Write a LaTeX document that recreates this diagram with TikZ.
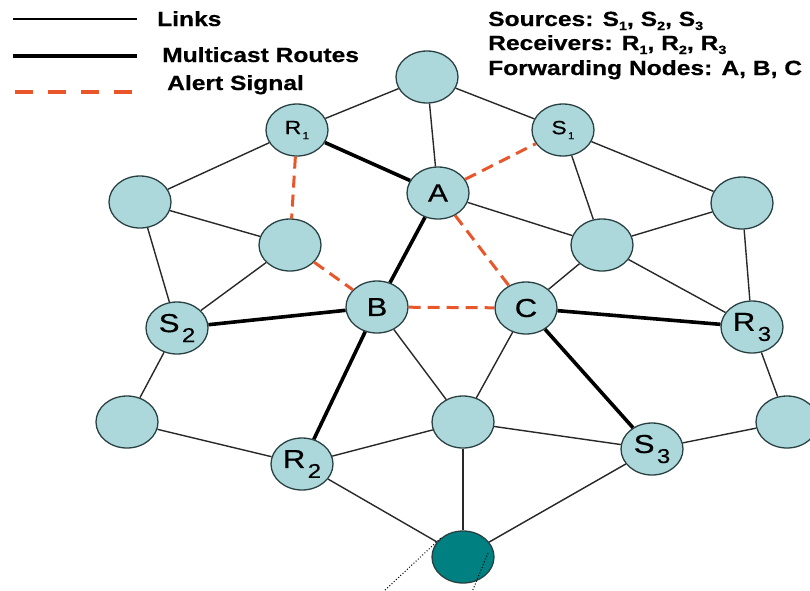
\documentclass[tikz,border=0pt]{standalone}
\usepackage{fontspec}
\setmainfont{Liberation Sans}
\newfontfamily\legendface[FakeBold=0.5]{Liberation Sans Bold}
\newfontfamily\labelface[FakeBold=0.4]{Liberation Sans}
\usepackage{graphicx}
\usetikzlibrary{shapes.geometric,calc}

\definecolor{nodefill}{RGB}{172,216,220}
\definecolor{nodeedge}{RGB}{40,64,66}
\definecolor{hubfill}{RGB}{0,128,128}
\definecolor{linkgray}{RGB}{40,40,40}
\definecolor{alertred}{RGB}{232,86,42}

% text is set slightly wide throughout
\newcommand{\hstretch}[1]{\scalebox{1.2}[1]{#1}}
\newcommand{\legendfont}{\fontsize{20.5}{24}\legendface}
\newcommand{\lsub}[1]{\raisebox{-4pt}{\fontsize{12}{12}\legendface #1}}
% large node label with subscript
\newcommand{\biglabel}[2]{\hstretch{\fontsize{26}{26}\labelface #1\kern2pt\raisebox{-10pt}{\fontsize{20}{20}\selectfont #2}}}
% small node label with subscript
\newcommand{\smalllabel}[2]{\hstretch{\fontsize{19}{19}\labelface #1\kern1pt\raisebox{-5pt}{\fontsize{10}{10}\selectfont #2}}}
\newcommand{\letterlabel}[1]{\hstretch{\fontsize{26}{26}\labelface #1}}

\tikzset{
  net/.style={ellipse, draw=nodeedge, line width=1.3pt, fill=nodefill,
    minimum width=62pt, minimum height=52pt, inner sep=0pt},
  hub/.style={net, fill=hubfill},
  link/.style={draw=linkgray, line width=1.4pt},
  route/.style={draw=black, line width=3.6pt},
  alert/.style={draw=alertred, line width=3pt, dash pattern=on 12pt off 7pt},
  rangeline/.style={draw=black, line width=1pt, dotted},
  legendtext/.style={anchor=base west, inner sep=0pt, font=\legendfont},
}

\begin{document}
\begin{tikzpicture}[x=1pt,y=-1pt]
\path[use as bounding box] (0,0) rectangle (810,590);
\clip (0,0) rectangle (810,590);

% ---- legend ----
\coordinate (lk1) at (13,19);   \coordinate (lk2) at (137,19);
\coordinate (lm1) at (13,56);   \coordinate (lm2) at (137,56);
\coordinate (la1) at (15,92);   \coordinate (la2) at (132,92);
\draw[draw=black, line width=1.8pt] (lk1) -- (lk2);
\draw[route] (lm1) -- (lm2);
\draw[draw=alertred, line width=3.5pt, dash pattern=on 18pt off 15pt] (la1) -- (la2);
\node[legendtext] (tlinks) at (157,26) {\hstretch{Links}};
\node[legendtext] (tmulti) at (162,62) {\hstretch{Multicast Routes}};
\node[legendtext] (talert) at (167,90) {\hstretch{Alert Signal}};

\node[legendtext] (tsrc) at (488,26)
  {\hstretch{Sources: S\lsub{1}, S\lsub{2}, S\lsub{3}}};
\node[legendtext] (trcv) at (488,50)
  {\hstretch{Receivers: R\lsub{1}, R\lsub{2}, R\lsub{3}}};
\node[legendtext] (tfwd) at (488,75)
  {\hstretch{Forwarding Nodes: A, B, C}};

% ---- network nodes ----
\node[net] (top) at (427,77)  {};
\node[net] (r1)  at (297,130) {\smalllabel{R}{1}};
\node[net] (s1)  at (563,130) {\smalllabel{S}{1}};
\node[net] (lu)  at (140,202) {};
\node[net] (a)   at (438,193) {\hstretch{\fontsize{25}{25}\labelface A}};
\node[net] (ru)  at (742,203) {};
\node[net] (ml)  at (290,245) {};
\node[net] (mr)  at (602,245) {};
\node[net] (s2)  at (177,328) {\biglabel{S}{2}};
\node[net] (b)   at (377,307) {\letterlabel{B}};
\node[net] (c)   at (526,308) {\letterlabel{C}};
\node[net] (r3)  at (752,327) {\biglabel{R}{3}};
\node[net] (ll)  at (127,422) {};
\node[net] (lm)  at (463,422) {};
\node[net] (lr)  at (787,422) {};
\node[net] (r2)  at (302,464) {\biglabel{R}{2}};
\node[net] (s3)  at (652,449) {\biglabel{S}{3}};
\node[hub] (hub) at (463,557) {};

% ---- plain links ----
\draw[link] (top) -- (r1);
\draw[link] (top) -- (a);
\draw[link] (top) -- (s1);
\draw[link] (r1) -- (lu);
\draw[link] (lu) -- (ml);
\draw[link] (lu) -- (s2);
\draw[link] (ml) -- (s2);
\draw[link] (s1) -- (mr);
\draw[link] (s1) -- (ru);
\draw[link] (a) -- (mr);
\draw[link] (mr) -- (ru);
\draw[link] (mr) -- (c);
\draw[link] (mr) -- (r3);
\draw[link] (ru) -- (r3);
\draw[link] (s2) -- (ll);
\draw[link] (b) -- (lm);
\draw[link] (c) -- (lm);
\draw[link] (ll) -- (r2);
\draw[link] (r2) -- (lm);
\draw[link] (r2) -- (hub);
\draw[link] (lm) -- (hub);
\draw[link] (lm) -- (s3);
\draw[link] (s3) -- (hub);
\draw[link] (s3) -- (lr);
\draw[link] (r3) -- (lr);

% ---- multicast routes ----
\draw[route] (r1) -- (a);
\draw[route] (a) -- (b);
\draw[route] (s2) -- (b);
\draw[route] (b) -- (r2);
\draw[route] (c) -- (r3);
\draw[route] (c) -- (s3);

% ---- alert signal ----
\draw[alert] (r1) -- (ml);
\draw[alert] (ml) -- (b);
\draw[alert] (a) -- (s1);
\draw[alert] (a) -- (c);
\draw[alert] (b) -- (c);

% ---- dotted range lines from the hub ----
\coordinate (rg1) at (383,592);
\coordinate (rg2) at (472,592);
\draw[rangeline] (hub.140) -- (rg1);
\draw[rangeline] ($(hub.center)+(25,-4)$) -- (rg2);
\end{tikzpicture}
\end{document}
